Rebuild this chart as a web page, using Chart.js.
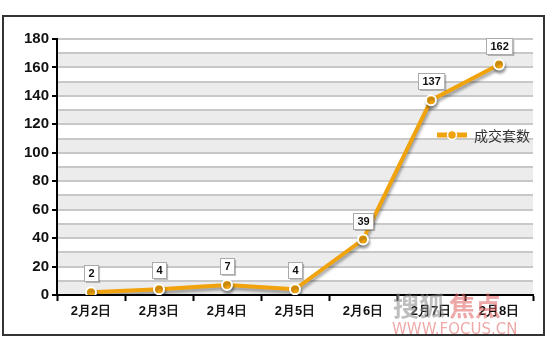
<!DOCTYPE html>
<html>
<head>
<meta charset="utf-8">
<script src="https://cdn.jsdelivr.net/npm/chart.js@4/dist/chart.umd.min.js"></script>
<style>
  html, body { margin: 0; padding: 0; background: #fff; }
  #wrap { position: relative; width: 550px; height: 351px; }
</style>
</head>
<body>
<div id="wrap"><canvas id="deals"></canvas></div>
<script>
// data
const days = ['2月2日', '2月3日', '2月4日', '2月5日', '2月6日', '2月7日', '2月8日'];
const deals = [2, 4, 7, 4, 39, 137, 162];
const seriesName = '成交套数';
const yMax = 180;
const yStep = 10;

const orange = '#F0A30C';
const font = 'Arial, "Liberation Sans", sans-serif';

// frame, grey bands, watermark
const background = {
  id: 'background',
  beforeDraw(chart) {
    const { ctx, chartArea, scales } = chart;
    const y = scales.y;
    ctx.save();
    ctx.fillStyle = '#fff';
    ctx.fillRect(0, 0, chart.width, chart.height);
    ctx.strokeStyle = '#333';
    ctx.lineWidth = 2;
    ctx.strokeRect(3, 16, chart.width - 9, chart.height - 32);
    // 0-10, 20-30, ... bands are grey
    ctx.fillStyle = '#ececec';
    for (let v = 0; v < yMax; v += yStep * 2) {
      const top = y.getPixelForValue(v + yStep);
      const bottom = y.getPixelForValue(v);
      ctx.fillRect(chartArea.left, top, chartArea.right - chartArea.left, bottom - top);
    }
    ctx.restore();
  },
  afterDraw(chart) {
    const { ctx, chartArea } = chart;
    ctx.save();
    ctx.globalAlpha = 0.55;
    ctx.textBaseline = 'alphabetic';
    ctx.font = 'bold 26px "Noto Sans CJK SC"';
    ctx.fillStyle = '#888';
    ctx.fillText('搜狐', chartArea.right - 140, chartArea.bottom + 21);
    ctx.fillStyle = '#e06060';
    ctx.fillText('焦点', chartArea.right - 84, chartArea.bottom + 21);
    ctx.font = '15px "DejaVu Sans"';
    ctx.fillText('WWW.FOCUS.CN', chartArea.right - 141, chartArea.bottom + 39);
    ctx.restore();
  }
};

// drop shadow under the line
const lineShadow = {
  id: 'lineShadow',
  beforeDatasetDraw(chart) {
    const ctx = chart.ctx;
    ctx.save();
    ctx.shadowColor = 'rgba(0,0,0,0.35)';
    ctx.shadowBlur = 3;
    ctx.shadowOffsetX = 1;
    ctx.shadowOffsetY = 3;
  },
  afterDatasetDraw(chart) {
    chart.ctx.restore();
  }
};

// value boxes above points + legend
const valueBoxes = {
  id: 'valueBoxes',
  afterDatasetsDraw(chart) {
    const { ctx, chartArea } = chart;
    const meta = chart.getDatasetMeta(0);
    ctx.save();
    ctx.font = 'bold 11px ' + font;
    ctx.textAlign = 'center';
    ctx.textBaseline = 'middle';
    meta.data.forEach((pt, i) => {
      const txt = String(deals[i]);
      const w = ctx.measureText(txt).width + 8;
      const h = 16;
      const bx = Math.round(pt.x - w / 2);
      const by = Math.round(pt.y - 27);
      ctx.fillStyle = 'rgba(0,0,0,0.25)';
      ctx.fillRect(bx + 2, by + 2, w, h);
      ctx.fillStyle = '#fff';
      ctx.fillRect(bx, by, w, h);
      ctx.strokeStyle = '#aaa';
      ctx.lineWidth = 1;
      ctx.strokeRect(bx + 0.5, by + 0.5, w, h);
      ctx.fillStyle = '#111';
      ctx.fillText(txt, bx + w / 2 + 0.5, by + h / 2 + 1);
    });

    // legend
    const lx = chartArea.right - 96;
    const ly = chartArea.top + 96;
    ctx.strokeStyle = orange;
    ctx.lineWidth = 5;
    ctx.beginPath();
    ctx.moveTo(lx, ly);
    ctx.lineTo(lx + 30, ly);
    ctx.stroke();
    ctx.beginPath();
    ctx.arc(lx + 15, ly, 4.5, 0, Math.PI * 2);
    ctx.fillStyle = orange;
    ctx.fill();
    ctx.strokeStyle = '#fff';
    ctx.lineWidth = 1.5;
    ctx.stroke();
    ctx.fillStyle = '#333';
    ctx.textAlign = 'left';
    ctx.font = '14px "Noto Sans CJK SC"';
    ctx.fillText(seriesName, lx + 37, ly + 1);
    ctx.restore();
  }
};

new Chart(document.getElementById('deals'), {
  type: 'line',
  data: {
    labels: days,
    datasets: [{
      label: seriesName,
      data: deals,
      borderColor: orange,
      borderWidth: 4,
      backgroundColor: orange,
      pointBackgroundColor: orange,
      pointBorderColor: '#fff',
      pointBorderWidth: 2,
      pointRadius: 5,
      tension: 0
    }]
  },
  options: {
    responsive: true,
    maintainAspectRatio: false,
    animation: false,
    devicePixelRatio: 1,
    layout: { padding: { left: 0, top: 39, right: 17, bottom: 0 } },
    plugins: {
      legend: { display: false },
      tooltip: { enabled: false }
    },
    scales: {
      x: {
        offset: true,
        afterFit(scale) { scale.height = 56; },
        border: { color: '#000', width: 2 },
        grid: {
          offset: true,
          drawOnChartArea: false,
          drawTicks: true,
          tickLength: 6,
          tickColor: '#000',
          tickWidth: 2
        },
        ticks: {
          color: '#111',
          padding: 3,
          maxRotation: 0,
          font: { family: font, size: 13, weight: 'bold' }
        }
      },
      y: {
        min: 0,
        max: yMax,
        afterFit(scale) { scale.width = 57; },
        border: { color: '#000', width: 2 },
        grid: {
          color: '#c8c8c8',
          lineWidth: 2,
          tickLength: 5,
          tickWidth: 2,
          tickColor: c => (c.tick && c.tick.value % 20 === 0) ? '#000' : 'rgba(0,0,0,0)'
        },
        ticks: {
          stepSize: yStep,
          color: '#111',
          padding: 3,
          autoSkip: false,
          font: { family: font, size: 15, weight: 'bold' },
          callback: v => (v % 20 === 0 ? v : '')
        }
      }
    }
  },
  plugins: [background, lineShadow, valueBoxes]
});
</script>
</body>
</html>
